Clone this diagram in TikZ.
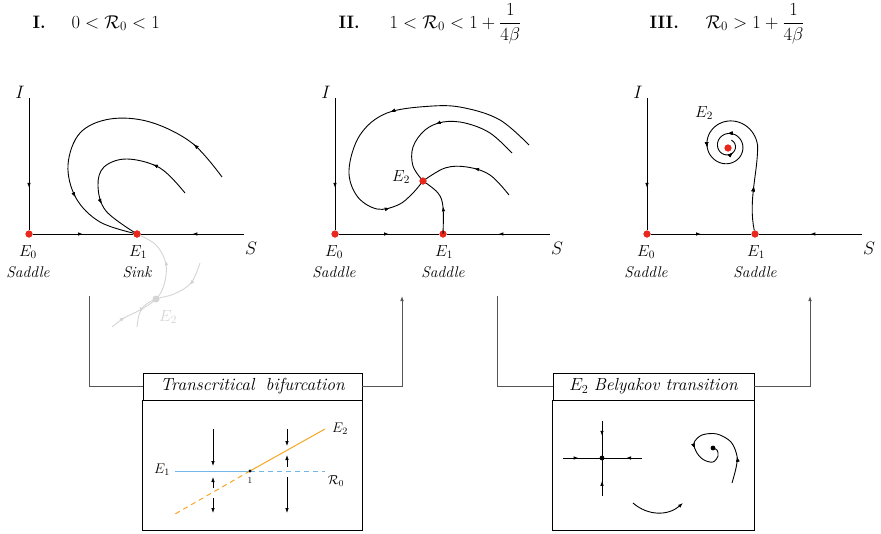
\RequirePackage{fix-cm}
\documentclass[tikz,border=0pt]{standalone}
\usepackage{amsmath}
\usepackage{amssymb}
\usepackage{fontspec}
\usetikzlibrary{arrows.meta,decorations.markings}

\definecolor{eqred}{RGB}{232,40,28}
\definecolor{branchorange}{RGB}{245,166,35}
\definecolor{branchblue}{RGB}{115,182,232}
\definecolor{ghostgray}{RGB}{212,212,212}
\definecolor{linkgray}{RGB}{85,85,85}

\tikzset{
  orbit/.style={line width=0.9pt},
  flowmark/.style={postaction={decorate},
    decoration={markings,mark=at position #1 with {\arrow{Latex[length=5pt,width=3.6pt]}}}},
  eqdot/.style={circle,fill=eqred,inner sep=0pt,minimum size=7pt},
  titlebox/.style={draw,line width=0.8pt,fill=white,minimum width=219pt,minimum height=27pt,
    inner sep=0pt,font=\fontsize{17.5}{20}\selectfont\itshape},
  link/.style={draw=linkgray,line width=0.9pt},
  axlabel/.style={font=\fontsize{18}{21}\selectfont},
  eqlabel/.style={font=\fontsize{16}{18}\selectfont},
  kindlabel/.style={font=\fontsize{15.5}{18}\selectfont\itshape},
}

\begin{document}
\begin{tikzpicture}[x=1pt,y=-1pt]
\useasboundingbox (0,0) rectangle (881,533);

% Titles
\node[anchor=base west,font=\fontsize{18}{21}\selectfont\bfseries] (tI) at (29,28) {I.};
\node[anchor=base west,font=\fontsize{18.5}{21}\selectfont] (cI) at (68,28) {$0<\mathcal{R}_0<1$};
\node[anchor=base west,font=\fontsize{18}{21}\selectfont\bfseries] (tII) at (335,28) {II.};
\node[anchor=base west,font=\fontsize{18.5}{21}\selectfont] (cII) at (386,28) {$1<\mathcal{R}_0<1+\dfrac{1}{4\beta}$};
\node[anchor=base west,font=\fontsize{18}{21}\selectfont\bfseries] (tIII) at (646,28) {III.};
\node[anchor=base west,font=\fontsize{18.5}{21}\selectfont] (cIII) at (702,28) {$\mathcal{R}_0>1+\dfrac{1}{4\beta}$};

% Axes of the three phase planes
\foreach \ox/\p/\va/\kind in {29/a/190/Sink,335/b/218/Saddle,647/c/190/Saddle}{
  \coordinate (top\p) at (\ox,98);
  \coordinate (end\p) at (\ox+215,234);
  \node[eqdot] (Ez\p) at (\ox,234) {};
  \node[eqdot] (Eo\p) at (\ox+108,234) {};
  \draw[orbit,flowmark=0.68] (top\p) -- (Ez\p);
  \draw[orbit,flowmark=0.5] (Ez\p) -- (Eo\p);
  \draw[orbit,flowmark=0.5] (end\p) -- (Eo\p);
  \node[eqdot] at (Ez\p) {};
  \node[eqdot] at (Eo\p) {};
  \node[axlabel] (I\p) at (\ox-9,92) {$I$};
  \node[axlabel] (S\p) at (\ox+222,248) {$S$};
  \node[eqlabel] (lz\p) at (\ox-1,252) {$E_0$};
  \node[kindlabel] (sz\p) at (\ox-1,272) {Saddle};
  \node[eqlabel] (lo\p) at (\ox+109,252) {$E_1$};
  \node[kindlabel] (so\p) at (\ox+108,272) {\kind};
}

% Panel I: E1 is a sink, E2 lies below the axis
\node[circle,fill=ghostgray,inner sep=0pt,minimum size=7pt] (Eg) at (156,299) {};
\node[text=ghostgray,eqlabel] (lg) at (168,317) {$E_2$};
\draw[ghostgray,line width=0.9pt,flowmark=0.12,flowmark=0.7] plot[smooth,tension=0.6] coordinates
  {(112,327) (124,318) (140,310) (156,299) (164,285) (166,264) (156,245) (137,234)};
\draw[ghostgray,line width=0.9pt,flowmark=0.25,flowmark=0.85] plot[smooth,tension=0.6] coordinates
  {(200,263) (191,283) (174,294) (156,299) (144,306) (139,315) (137,327)};
\draw[orbit,flowmark=0.14,flowmark=0.76] plot[smooth,tension=0.6] coordinates
  {(222,177) (192,143) (150,122) (110,119) (80,133) (68,165) (76,198) (100,222) (137,234)};
\draw[orbit,flowmark=0.24,flowmark=0.74] plot[smooth,tension=0.6] coordinates
  {(185,193) (160,168) (127,159) (104,167) (98,186) (106,211) (137,234)};
\node[eqdot] at (Eoa) {};

% Panel II: E2 is a stable node above the axis
\node[eqdot] (Eb) at (423,181) {};
\node[eqlabel] (lb) at (401,177) {$E_2$};
\draw[orbit,flowmark=0.45] plot[smooth,tension=0.6] coordinates
  {(Eob) (443,207) (438,193) (Eb)};
\draw[orbit,flowmark=0.45,flowmark=0.87] plot[smooth,tension=0.6] coordinates
  {(529,145) (500,120) (465,108) (433,106) (387,113) (360,135) (349,170) (357,196) (377,209) (398,205) (412,194) (Eb)};
\draw[orbit,flowmark=0.55] plot[smooth,tension=0.6] coordinates
  {(512,153) (490,133) (465,123) (443,122) (425,130) (413,147) (413,166) (Eb)};
\draw[orbit,flowmark=0.45] plot[smooth,tension=0.6] coordinates
  {(509,195) (490,175) (467,167) (445,168) (Eb)};
\node[eqdot] at (Eb) {};

% Panel III: E2 is a stable focus
\node[eqdot] (Ec) at (728,148) {};
\node[eqlabel] (lc) at (704,113) {$E_2$};
\draw[orbit,flowmark=0.15,flowmark=0.56,flowmark=0.82,flowmark=0.95]
  (Eoc) .. controls (748,200) and (758,172) .. (757.6,146)
  -- plot[domain=0:780,samples=120,variable=\t]
     ({728+28*exp(-0.0019254*(\t-30))*cos(\t)},{146-28*exp(-0.0019254*(\t-30))*sin(\t)});
\node[eqdot] at (Ec) {};

% Bifurcation boxes
\node[titlebox] (trans) at (252.5,386.5) {Transcritical\hspace{0.65em}bifurcation};
\draw[line width=0.8pt] (trans.south west) rectangle (362,530);
\node[titlebox,minimum width=201pt] (bely) at (653.5,386.5) {\upshape$E_2$ \itshape Belyakov transition};
\draw[line width=0.8pt] (bely.south west) rectangle (754,530);

% Connectors between panels and boxes
\coordinate (fromI) at (89,296);
\coordinate (toII) at (402,296);
\coordinate (fromII) at (497,296);
\coordinate (toIII) at (810,296);
\draw[link] (fromI) |- (trans.west);
\draw[link,-{Latex[length=5pt,width=3.6pt]}] (trans.east) -| (toII);
\draw[link] (fromII) |- (bely.west);
\draw[link,-{Latex[length=5pt,width=3.6pt]}] (bely.east) -| (toIII);

% Transcritical diagram
\coordinate (bp) at (250,471);
\coordinate (blueL) at (175,471);
\coordinate (blueR) at (325,471);
\coordinate (orgU) at (325,429);
\coordinate (orgD) at (175,514);
\draw[branchblue,line width=1pt] (blueL) -- (bp);
\draw[branchblue,line width=1pt,dash pattern=on 5pt off 4pt] (bp) -- (blueR);
\draw[branchorange,line width=1pt] (bp) -- (orgU);
\draw[branchorange,line width=1pt,dash pattern=on 5pt off 4pt] (bp) -- (orgD);
\fill (bp) circle (1.6pt);
\node[font=\fontsize{14}{16}\selectfont] (e1t) at (162,470) {$E_1$};
\node[font=\fontsize{14}{16}\selectfont] (e2t) at (340,429) {$E_2$};
\node[font=\fontsize{13}{15}\selectfont] (rt) at (336,481) {$\mathcal{R}_0$};
\node[font=\fontsize{9}{10}\selectfont] (one) at (250,480) {1};
\foreach \x/\a/\b in {213/429/466,213/488/477,213/498/513,287/429/446,287/467/455,287/477/513}
  \draw[line width=0.8pt,-{Latex[length=5pt,width=3.6pt]}] (\x,\a) -- (\x,\b);

% Belyakov transition sketch
\coordinate (nd) at (602,458);
\coordinate (ndW) at (563,458);
\coordinate (ndE) at (642,458);
\coordinate (ndN) at (602,421);
\coordinate (ndS) at (602,496);
\foreach \c in {ndW,ndE,ndN,ndS}
  \draw[orbit,flowmark=0.4] (\c) -- (nd);
\fill (nd) circle (2.4pt);
\draw[orbit,-{Latex[length=5pt,width=3.6pt]}] (633,503) .. controls (648,516) and (668,516) .. (683,503);
\coordinate (fc) at (713,448);
\draw[orbit,flowmark=0.2,flowmark=0.68] plot[smooth,tension=0.55] coordinates
  {(732,483) (736,468) (737,456) (731,442) (717,434) (702,435) (694,443) (697,453) (704,460)
   (713,462) (718,456) (717,450) (fc)};
\fill (fc) circle (2.4pt);

\end{tikzpicture}
\end{document}
